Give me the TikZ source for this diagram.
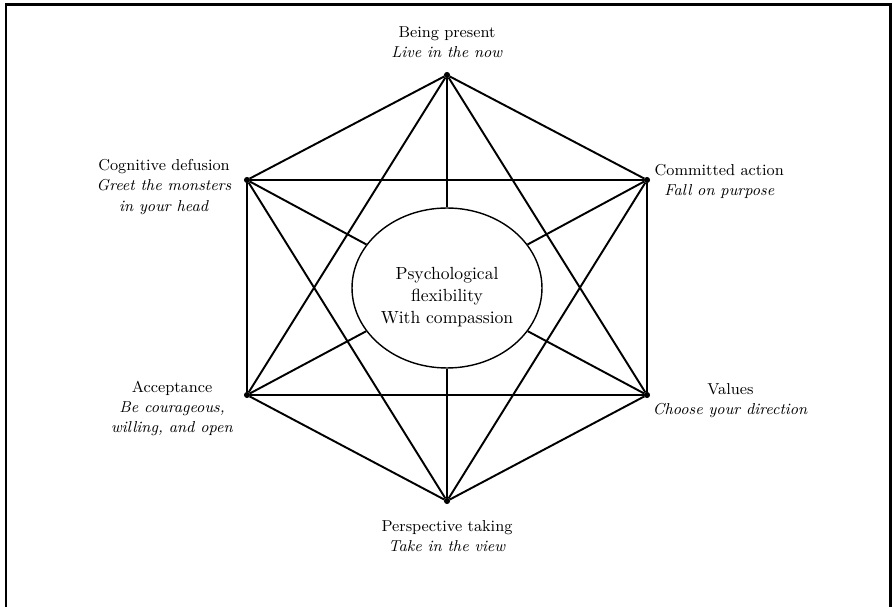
\documentclass[tikz,border=0pt]{standalone}
\usepackage{tikz}
\usetikzlibrary{shapes.geometric,positioning}

\begin{document}
\begin{tikzpicture}[x=0.02cm, y=-0.02cm, node distance=1cm]
\tikzstyle{corner} = [draw, circle, fill, inner sep=0pt, minimum size=3pt]
\tikzstyle{core} = [draw, ellipse, line width=0.8pt, minimum width=3.8cm, minimum height=3.2cm, inner sep=0pt]
\tikzstyle{coretxt} = [align=center, inner sep=0pt, font=\fontsize{10}{12.5}\selectfont]
\tikzstyle{lbl} = [align=center, inner sep=0pt, font=\fontsize{9}{11.5}\selectfont]
\tikzstyle{edge} = [line width=1.1pt]

\useasboundingbox (0,0) rectangle (892,607);
\draw[line width=1.7pt] (6,607) -- (6,5) -- (890,5) -- (890,607);

% the six corners and the core
\node[corner] (present) at (447,75) {};
\node[corner] (defusion) at (247,180) {};
\node[corner] (action) at (647,180) {};
\node[corner] (accept) at (247,395) {};
\node[corner] (values) at (647,395) {};
\node[corner] (view) at (447,501) {};
\node[core] (flex) at (447,288) {};
\node[coretxt, yshift=-5pt] (flextxt) at (flex) {Psychological\\flexibility\\With compassion};

\node[lbl, above=8pt of present] (presenttxt) {Being present\\\textit{Live in the now}};
\node[lbl, left=7pt of defusion, yshift=-4pt] (defusiontxt) {Cognitive defusion\\\textit{Greet the monsters}\\\textit{in your head}};
\node[lbl, right=2.5pt of action, yshift=-1pt] (actiontxt) {Committed action\\\textit{Fall on purpose}};
\node[lbl, left=6pt of accept, yshift=-7.5pt] (accepttxt) {Acceptance\\\textit{Be courageous,}\\\textit{willing, and open}};
\node[lbl, right=1.5pt of values, yshift=-3pt] (valuestxt) {Values\\\textit{Choose your direction}};
\node[lbl, below=9pt of view] (viewtxt) {Perspective taking\\\textit{Take in the view}};

% hexagon, the two bars and the two triangles
\draw[edge] (present) -- (defusion) -- (accept) -- (view) -- (values) -- (action) -- (present);
\draw[edge] (defusion) -- (action);
\draw[edge] (accept) -- (values);
\draw[edge] (present) -- (accept);
\draw[edge] (present) -- (values);
\draw[edge] (view) -- (defusion);
\draw[edge] (view) -- (action);

% spokes end on the core
\foreach \p in {present,defusion,action,accept,values,view}
  \draw[edge] (\p) -- (flex);

\end{tikzpicture}
\end{document}
